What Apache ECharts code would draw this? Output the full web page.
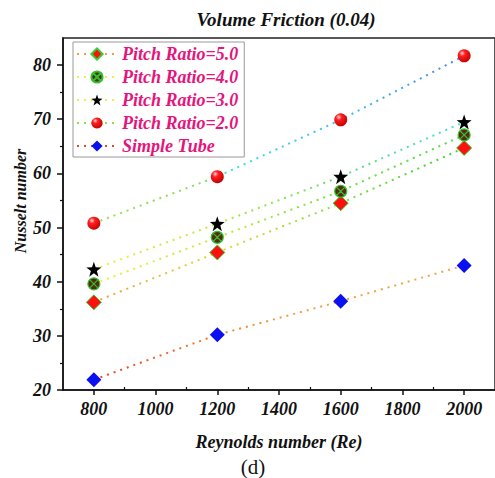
<!DOCTYPE html>
<html><head><meta charset="utf-8">
<script src="https://cdn.jsdelivr.net/npm/echarts@6/dist/echarts.min.js"></script>
<style>html,body{margin:0;padding:0;background:#fff}#c{width:495px;height:478px}</style>
</head><body><div id="c"></div>
<script>
const reynolds = [800, 1200, 1600, 2000];
const pitch50 = [36.2, 45.4, 54.5, 64.7];
const pitch40 = [39.6, 48.2, 56.7, 67.1];
const pitch30 = [42.3, 50.7, 59.4, 69.5];
const pitch20 = [50.8, 59.4, 69.9, 81.7];
const simpleTube = [21.9, 30.2, 36.4, 43.0];
const xTicks = [800, 1000, 1200, 1400, 1600, 1800, 2000];
const xMinor = [900, 1100, 1300, 1500, 1700, 1900];
const yTicks = [20, 30, 40, 50, 60, 70, 80];
const yMinor = [25, 35, 45, 55, 65, 75];

const serif = '"Liberation Serif","DejaVu Serif",serif';
const G = echarts.graphic;
function grad(stops){ return new G.LinearGradient(0,0,1,0, stops.map(s=>({offset:s[0], color:s[1]}))); }
function pts(arr){ return reynolds.map((x,i)=>[x, arr[i]]); }
const sphere = new G.RadialGradient(0.35,0.3,0.75,[{offset:0,color:'#ffd8d8'},{offset:0.3,color:'#ff2020'},{offset:1,color:'#c00000'}]);
const xcircle = 'path://M0,-10A10,10 0 1,1 0,10A10,10 0 1,1 0,-10ZM-7,-7L7,7M7,-7L-7,7';
const fnt = {fontFamily:serif, fontSize:18, fontWeight:'bold', fontStyle:'italic', color:'#111'};

function line(name, data, stops, symbol, size, itemStyle){
  return {type:'line', name, data:pts(data), symbol, symbolSize:size, z:3,
    lineStyle:{type:[2,5], width:2, color:grad(stops)},
    itemStyle: Object.assign({opacity:1}, itemStyle), emphasis:{disabled:true}, animation:false};
}
const chart = echarts.init(document.getElementById('c'), null, {renderer:'svg'});
chart.setOption({
  animation:false,
  title:{text:'Volume Friction (0.04)', left:281, top:5, textAlign:'center',
    textStyle:Object.assign({}, fnt, {fontSize:19})},
  grid:{left:63, top:38, width:436, height:352, show:true, borderColor:'#222', borderWidth:1.5, backgroundColor:'transparent'},
  legend:{orient:'vertical', left:73, top:42, borderColor:'#999', borderWidth:1, padding:[3,6,2,3],
    itemWidth:40, itemHeight:14, itemGap:5,
    textStyle:Object.assign({}, fnt, {color:'#e5157c'}),
    data:[
      {name:'Pitch Ratio=5.0', lineStyle:{color:'#f0a040'}},
      {name:'Pitch Ratio=4.0', lineStyle:{color:'#eeee40'}},
      {name:'Pitch Ratio=3.0', lineStyle:{color:'#eeee40'}},
      {name:'Pitch Ratio=2.0', lineStyle:{color:'#90e040'}},
      {name:'Simple Tube', lineStyle:{color:'#e04a30'}}
    ]},
  xAxis:[{type:'value', min:700, max:2100,
    axisLine:{lineStyle:{color:'#111', width:1.5}},
    axisTick:{customValues:xTicks, length:5, lineStyle:{color:'#111', width:1.5}},
    axisLabel:Object.assign({customValues:xTicks, margin:10, formatter:v=>String(v)}, fnt),
    splitLine:{show:false},
    name:'Reynolds number (Re)', nameLocation:'middle', nameGap:43,
    nameTextStyle:fnt},
   {type:'value', min:700, max:2100, position:'bottom', axisLine:{show:false}, axisLabel:{show:false}, splitLine:{show:false},
    axisTick:{customValues:xMinor, inside:true, length:3, lineStyle:{color:'#111', width:1.2}}}],
  yAxis:[{type:'value', min:20, max:85,
    axisLine:{show:true, lineStyle:{color:'#111', width:1.5}},
    axisTick:{show:true, customValues:yTicks, length:6, lineStyle:{color:'#111', width:1.5}},
    axisLabel:Object.assign({customValues:yTicks, margin:12}, fnt),
    splitLine:{show:false}},
   {type:'value', min:20, max:85, position:'left', axisLine:{show:false}, axisLabel:{show:false}, splitLine:{show:false},
    axisTick:{show:true, customValues:yMinor, length:3, lineStyle:{color:'#111', width:1.2}}}],
  graphic:[
    {type:'text', x:20, y:201, rotation:Math.PI/2,
      style:{text:'Nusselt number', fontFamily:serif, fontSize:16, fontWeight:'bold', fontStyle:'italic', fill:'#111', align:'center', verticalAlign:'middle'}},
    {type:'text', x:253, y:467,
      style:{text:'(d)', fontFamily:serif, fontSize:21, fill:'#111', align:'center', verticalAlign:'middle'}}
  ],
  series:[
    line('Pitch Ratio=2.0', pitch20, [[0,'#a0e040'],[0.3,'#80e060'],[0.36,'#40e0e0'],[0.7,'#40b8f0'],[1,'#4a8ae0']], 'circle', 13, {color:sphere}),
    line('Simple Tube', simpleTube, [[0,'#e8402a'],[0.3,'#f07a30'],[0.55,'#f0a040'],[1,'#f0a848']], 'diamond', 15, {color:'#0a10f0'}),
    line('Pitch Ratio=5.0', pitch50, [[0,'#f0a040'],[0.33,'#e0d840'],[0.6,'#90e040'],[1,'#40d040']], 'diamond', 15, {color:'#ff1010', borderColor:'#30d030', borderWidth:1}),
    line('Pitch Ratio=4.0', pitch40, [[0,'#f0f040'],[0.33,'#c8e840'],[0.6,'#80e040'],[1,'#50d850']], xcircle, 12, {color:'#5a2a10', borderColor:'#30c030', borderWidth:1.2}),
    line('Pitch Ratio=3.0', pitch30, [[0,'#f0f040'],[0.33,'#b8e840'],[0.66,'#60e070'],[1,'#40e0e0']], 'path://M0,-10L2.35,-3.24L9.51,-3.09L3.8,1.24L5.88,8.09L0,4L-5.88,8.09L-3.8,1.24L-9.51,-3.09L-2.35,-3.24Z', 15, {color:'#000'})
  ]
});
</script></body></html>
